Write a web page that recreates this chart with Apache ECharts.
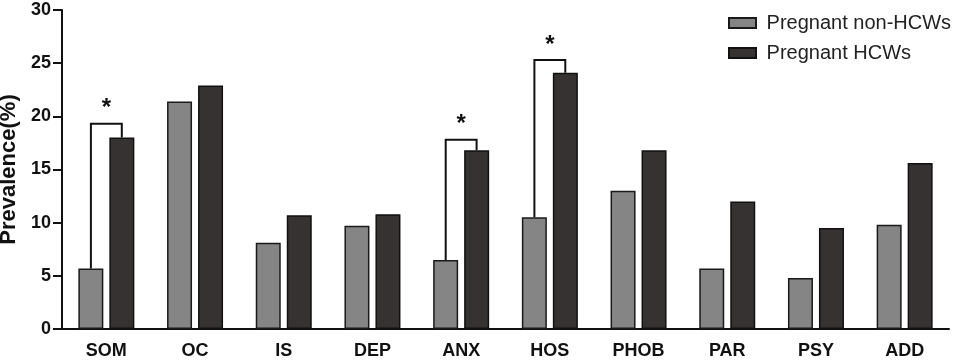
<!DOCTYPE html>
<html lang="en">
<head>
    <meta charset="UTF-8">
    <title>Prevalence chart</title>
    <script src="https://cdn.jsdelivr.net/npm/echarts@6/dist/echarts.min.js"></script>
    <style>
        html, body { margin: 0; padding: 0; background: #fff; }
        #chart { width: 957px; height: 364px; }
    </style>
</head>
<body>
    <div id="chart"></div>

    <script>
// data
const categories = ['SOM', 'OC', 'IS', 'DEP', 'ANX', 'HOS', 'PHOB', 'PAR', 'PSY', 'ADD'];
const nonHCWs = [5.7, 21.4, 8.1, 9.7, 6.5, 10.5, 13.0, 5.7, 4.8, 9.8];
const hcws = [18.0, 22.9, 10.7, 10.8, 16.8, 24.1, 16.8, 12.0, 9.5, 15.6];
const yTicks = [0, 5, 10, 15, 20, 25, 30];
// significance brackets: category index and height of bracket top
const sigIndex = [0, 4, 5];
const sigTop = [19.3, 17.8, 25.3];

const FONT = '"Liberation Sans", Arial, sans-serif';

const chart = echarts.init(document.getElementById('chart'));

const bracketData = sigIndex.map((ci, i) => [ci, sigTop[i], nonHCWs[ci], hcws[ci]]);

function renderBracket(params, api) {
    const ci = api.value(0);
    const top = api.coord([ci, api.value(1)]);
    const left = api.coord([ci, api.value(2)]);
    const right = api.coord([ci, api.value(3)]);
    const band = api.size([1, 0])[0];
    const off = band * 15.5 / 89;
    const xl = top[0] - off, xr = top[0] + off;
    return {
        type: 'group',
        children: [
            {
                type: 'polyline',
                shape: { points: [[xl, left[1]], [xl, top[1]], [xr, top[1]], [xr, right[1]]] },
                style: { stroke: '#111', lineWidth: 2, fill: null }
            },
            {
                type: 'text',
                style: {
                    text: '*', x: top[0], y: top[1] - 3,
                    fill: '#111', fontSize: 24, fontWeight: 'bold', fontFamily: FONT,
                    align: 'center', verticalAlign: 'bottom'
                }
            }
        ]
    };
}

const option = {
    animation: false,
    grid: { left: 62, right: 8, top: 10, bottom: 35, containLabel: false, outerBoundsMode: 'none' },
    legend: {
        data: ['Pregnant non-HCWs', 'Pregnant HCWs'],
        orient: 'vertical',
        left: 723, top: 8,
        icon: 'rect',
        itemWidth: 27, itemHeight: 10, itemGap: 10,
        formatter: ' {name}',
        textStyle: { fontSize: 20, color: '#222', fontFamily: FONT }
    },
    xAxis: {
        type: 'category',
        data: categories,
        axisLine: { lineStyle: { color: '#111', width: 2 } },
        axisTick: { alignWithLabel: true, length: 9, lineStyle: { color: '#111', width: 2 } },
        axisLabel: { fontSize: 18, fontWeight: 'bold', color: '#111', fontFamily: FONT, margin: 13 }
    },
    yAxis: {
        type: 'value',
        min: yTicks[0], max: yTicks[yTicks.length - 1], interval: 5,
        name: 'Prevalence(%)',
        nameLocation: 'middle',
        nameGap: 40,
        nameTextStyle: { fontSize: 22, fontWeight: 'bold', color: '#111', fontFamily: FONT },
        splitLine: { show: false },
        axisLine: { show: true, lineStyle: { color: '#111', width: 2 } },
        axisTick: { show: true, length: 9, lineStyle: { color: '#111', width: 2 } },
        axisLabel: { fontSize: 18, fontWeight: 'bold', color: '#111', fontFamily: FONT, margin: 11 }
    },
    series: [
        {
            name: 'Pregnant non-HCWs',
            type: 'bar',
            data: nonHCWs,
            barWidth: 25,
            barGap: '24%',
            itemStyle: { color: '#858585', borderColor: '#1a1a1a', borderWidth: 1.5 }
        },
        {
            name: 'Pregnant HCWs',
            type: 'bar',
            data: hcws,
            barWidth: 25,
            itemStyle: { color: '#363232', borderColor: '#111', borderWidth: 1.5 }
        },
        {
            type: 'custom',
            renderItem: renderBracket,
            data: bracketData,
            encode: { x: 0, y: 1 },
            z: 5,
            silent: true
        }
    ]
};

chart.setOption(option);
    </script>
</body>
</html>
